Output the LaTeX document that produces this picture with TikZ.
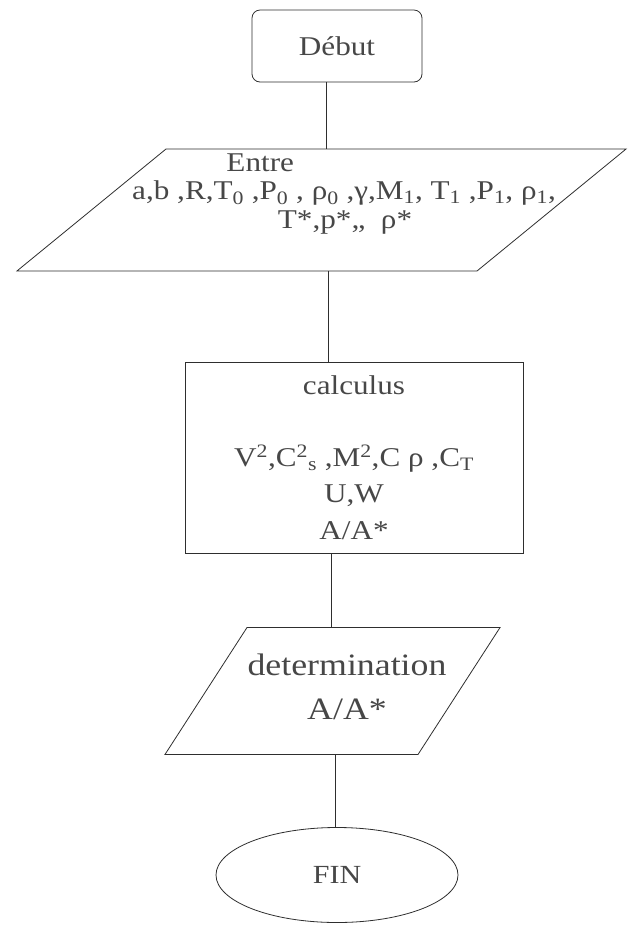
\documentclass[tikz,border=0pt]{standalone}
\usepackage{fontspec}
\setmainfont{Liberation Serif}[FakeStretch=1.15]
\usetikzlibrary{shapes.geometric}
\definecolor{scanink}{HTML}{2E2E2E}
\definecolor{scantext}{HTML}{474747}

\begin{document}
\begin{tikzpicture}[-,
  startbox/.style={draw=scanink, line width=0.8pt, rounded corners=8pt, rectangle, minimum width=5.95cm, minimum height=2.52cm, text=scantext, font=\fontsize{27}{30}\selectfont},
  iobox/.style={draw=scanink, line width=0.8pt, trapezium},
  iotext/.style={inner sep=0pt, text=scantext},
  calcbox/.style={draw=scanink, line width=0.8pt, rectangle, minimum width=11.83cm, minimum height=6.685cm, align=center, text=scantext, font=\fontsize{27}{36}\selectfont},
  endbox/.style={draw=scanink, line width=0.8pt, ellipse, minimum width=8.47cm, minimum height=3.325cm, text=scantext, font=\fontsize{26}{30}\selectfont},
  link/.style={draw=scanink, line width=0.8pt}]
\useasboundingbox (0,0) rectangle (22.05,-32.375);
\node[startbox] (debut) at (11.795,-1.61) {Début};
\node[iobox, trapezium left angle=39.3, trapezium right angle=140.7, inner xsep=5.4425cm, inner ysep=2.135cm] (entree) at (11.2525,-7.35) {};
\node[iotext, anchor=west, align=left, font=\fontsize{27}{28}\selectfont] (entreetxt) at (4.62,-6.79) {\hspace*{3.3cm}Entre\\
a,b ,R,T\textsubscript{0} ,P\textsubscript{0} , ρ\textsubscript{0} ,γ,M\textsubscript{1}, T\textsubscript{1} ,P\textsubscript{1}, ρ\textsubscript{1},\\
\hspace*{5.1cm}T*,p*,, \ ρ*};
\node[calcbox] (calcul) at (12.39,-16.01) {calculus\\[36pt]
V\textsuperscript{2},C\textsuperscript{2}\textsubscript{s} ,M\textsuperscript{2},C ρ ,C\textsubscript{T}\\
U,W\\
A/A*};
\node[iobox, trapezium left angle=57.14, trapezium right angle=122.86, inner xsep=2.9925cm, inner ysep=2.2225cm] (determ) at (11.6375,-24.185) {};
\node[iotext, align=center, font=\fontsize{31}{44}\selectfont] (determtxt) at (12.145,-24.045) {determination\\A/A*};
\node[endbox] (fin) at (11.795,-30.625) {FIN};
\draw[link] ([xshift=-0.385cm]debut.south) -- ([xshift=-0.385cm]debut.south |- entree.north);
\draw[link] ([xshift=0.23cm]entree.south) -- ([xshift=0.23cm]entree.south |- calcul.north);
\draw[link] ([xshift=-0.8cm]calcul.south) -- ([xshift=-0.8cm]calcul.south |- determ.north);
\draw[link] ([xshift=0.09cm]determ.south) -- ([xshift=0.09cm]determ.south |- fin.north);
\end{tikzpicture}
\end{document}
